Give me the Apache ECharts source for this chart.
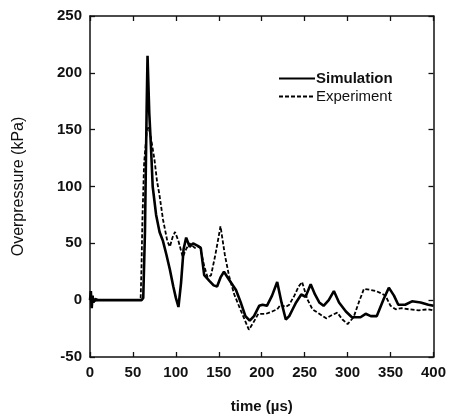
<!DOCTYPE html>
<html><head><meta charset="utf-8">
<script src="https://cdn.jsdelivr.net/npm/echarts@6/dist/echarts.min.js"></script>
<style>html,body{margin:0;padding:0;background:#fff}#c{width:449px;height:419px}</style>
</head><body><div id="c"></div>
<script>
var xTicks = [0, 50, 100, 150, 200, 250, 300, 350, 400];
var yTicks = [-50, 0, 50, 100, 150, 200, 250];
var seriesNames = ['Simulation', 'Experiment'];
var simTime = [0,1,2,3,4,6,10,30,60,62,64,66,67,68,69,71,73,77,81,85,89,93,97,100,103,106,109,112,116,120,125,129,133,139,144,148,152,156,162,170,176,181,186,191,197,201,206,212,218,223,228,232,236,240,246,251,257,262,267,272,278,284,290,298,305,315,321,327,334,342,348,354,359,367,375,385,394,400];
var simValue = [0,8,-7,4,-2,1,0,0,0,2,60,170,215,190,165,135,100,75,60,52,40,27,12,2,-6,15,45,55,47,50,48,46,22,17,13,12,20,25,18,9,-3,-14,-18,-14,-5,-4,-5,4,16,-2,-17,-14,-8,-2,5,3,14,5,-2,-5,0,8,-2,-10,-15,-15,-12,-14,-14,1,11,4,-4,-4,-1,-2,-4,-5];
var expTime = [0,1,2,3,4,6,10,30,58,59,60,61,63,66,68,70,72,75,78,81,85,90,93,96,99,103,108,112,116,122,128,133,137,141,146,152,157,162,168,175,180,185,190,196,205,212,218,222,228,232,238,243,247,253,259,267,275,282,288,294,300,307,313,319,327,333,339,344,350,356,363,371,383,394,400];
var expValue = [0,6,-6,3,-1,0,0,0,0,2,30,70,120,148,152,147,138,124,105,92,71,52,47,55,60,52,38,45,50,46,47,30,20,22,40,65,40,21,5,-8,-17,-26,-20,-12,-12,-10,-8,-4,-6,-4,4,12,16,1,-8,-12,-16,-13,-11,-17,-21,-15,-2,10,9,8,6,4,-5,-8,-7,-8,-9,-8,-9];

function pairs(t, v) { return t.map(function (x, i) { return [x, v[i]]; }); }

var chart = echarts.init(document.getElementById('c'), null, {renderer: 'canvas'});
var font = 'Liberation Sans, Arial, sans-serif';
var axLine = {show: true, onZero: false, lineStyle: {color: '#111', width: 1.5}};
var tick = {show: true, inside: true, length: 5, lineStyle: {color: '#111', width: 1.3}};
chart.setOption({
  animation: false,
  backgroundColor: '#fff',
  grid: {left: 90, right: 14, top: 16, bottom: 62},
  legend: {
    orient: 'vertical', left: 273, top: 66, itemWidth: 36, itemHeight: 14, itemGap: 3,
    itemStyle: {opacity: 0},
    data: [
      {name: seriesNames[0], textStyle: {fontWeight: 'bold'}},
      {name: seriesNames[1], textStyle: {fontWeight: 'normal'}}
    ],
    textStyle: {fontFamily: font, fontSize: 15, color: '#111', padding: [0, 0, 0, -4]}
  },
  xAxis: [{
    type: 'value', min: xTicks[0], max: xTicks[xTicks.length - 1], interval: 50,
    name: 'time (µs)', nameLocation: 'middle', nameGap: 42,
    nameTextStyle: {fontFamily: font, fontSize: 15, fontWeight: 'bold', color: '#111'},
    axisLine: axLine, axisTick: tick, splitLine: {show: false},
    axisLabel: {fontFamily: font, fontSize: 15, fontWeight: 'bold', color: '#111', margin: 8}
  }, {
    type: 'value', position: 'top', min: xTicks[0], max: xTicks[xTicks.length - 1], interval: 50,
    axisLine: axLine, axisTick: tick, axisLabel: {show: false}, splitLine: {show: false}
  }],
  yAxis: [{
    type: 'value', min: yTicks[0], max: yTicks[yTicks.length - 1], interval: 50,
    name: 'Overpressure (kPa)', nameLocation: 'middle', nameGap: 63, nameRotate: 90,
    nameTextStyle: {fontFamily: font, fontSize: 16, color: '#111'},
    axisLine: axLine, axisTick: tick, splitLine: {show: false},
    axisLabel: {fontFamily: font, fontSize: 15, fontWeight: 'bold', color: '#111', margin: 8}
  }, {
    type: 'value', position: 'right', min: yTicks[0], max: yTicks[yTicks.length - 1], interval: 50,
    axisLine: axLine, axisTick: tick, axisLabel: {show: false}, splitLine: {show: false}
  }],
  series: [{
    name: seriesNames[0], type: 'line', showSymbol: false, symbol: 'none',
    data: pairs(simTime, simValue),
    lineStyle: {color: '#000', width: 2.6}, itemStyle: {color: '#000'}
  }, {
    name: seriesNames[1], type: 'line', showSymbol: false, symbol: 'none',
    data: pairs(expTime, expValue),
    lineStyle: {color: '#000', width: 1.8, type: [4, 2]}, itemStyle: {color: '#000'}
  }]
});
</script></body></html>
